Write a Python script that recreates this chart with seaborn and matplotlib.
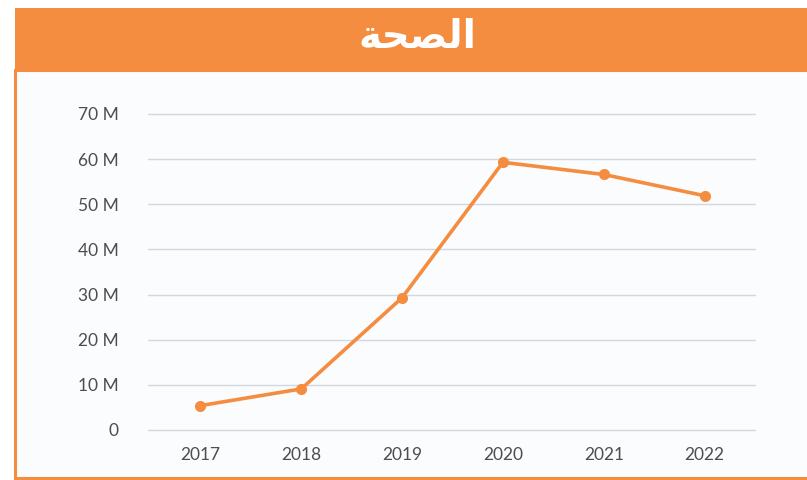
import pandas as pd
import numpy as np
import seaborn as sns
import matplotlib.pyplot as plt
from matplotlib.patches import Rectangle

# data (millions)
years = ["2017", "2018", "2019", "2020", "2021", "2022"]
values = [5.4, 9.1, 29.3, 59.3, 56.6, 51.9]
y_ticks = [0, 10, 20, 30, 40, 50, 60, 70]
y_labels = ["0", "10 M", "20 M", "30 M", "40 M", "50 M", "60 M", "70 M"]
# "الصحة" in presentation forms, visual order (matplotlib has no Arabic shaping)
title = "\uFE94\uFEA4\uFEBC\uFEDF\uFE8D"

orange = "#F48D3F"
df = pd.DataFrame({"year": years, "value": values})

sns.set_theme(style="white")
plt.rcParams["font.family"] = ["Lato", "DejaVu Sans"]

fig = plt.figure(figsize=(8.07, 4.8), dpi=100)
fig.patch.set_facecolor("white")

# card background + orange border + header
fig.patches.append(Rectangle((15 / 807, 0.004), 1.0, 1 - 70 / 480 - 0.004,
                             transform=fig.transFigure, facecolor="#FBFCFE",
                             edgecolor=orange, linewidth=2.2, zorder=-2))
fig.patches.append(Rectangle((15 / 807, 1 - 70 / 480), 1.0, 62 / 480,
                             transform=fig.transFigure, facecolor=orange,
                             edgecolor="none", zorder=-1))
fig.text(417 / 807, 1 - 37 / 480, title, color="white", fontsize=28,
         fontweight="bold", family="DejaVu Sans", ha="center", va="center")

ax = fig.add_axes([148 / 807, 1 - 430 / 480, (755 - 148) / 807, (430 - 114) / 480])
ax.set_zorder(2)
ax.set_facecolor("none")

sns.lineplot(data=df, x="year", y="value", ax=ax, color=orange, linewidth=2.6,
             marker="o", markersize=8, markeredgewidth=0, sort=False, zorder=3)

ax.set_ylim(0, 70)
ax.set_xlim(-0.52, 5.5)
ax.set_yticks(y_ticks)
ax.set_yticklabels(y_labels)
ax.grid(axis="y", color="#D3D8DE", linewidth=1)
ax.grid(axis="x", visible=False)
for line in ax.get_ygridlines():
    line.set_clip_on(False)
for s in ax.spines.values():
    s.set_visible(False)
ax.tick_params(axis="y", length=0, pad=21, labelsize=12.5, labelcolor="#4D4D4D")
ax.tick_params(axis="x", length=0, pad=12, labelsize=12.5, labelcolor="#4D4D4D")
ax.set_xlabel("")
ax.set_ylabel("")

fig.savefig("out.png", dpi=100)
